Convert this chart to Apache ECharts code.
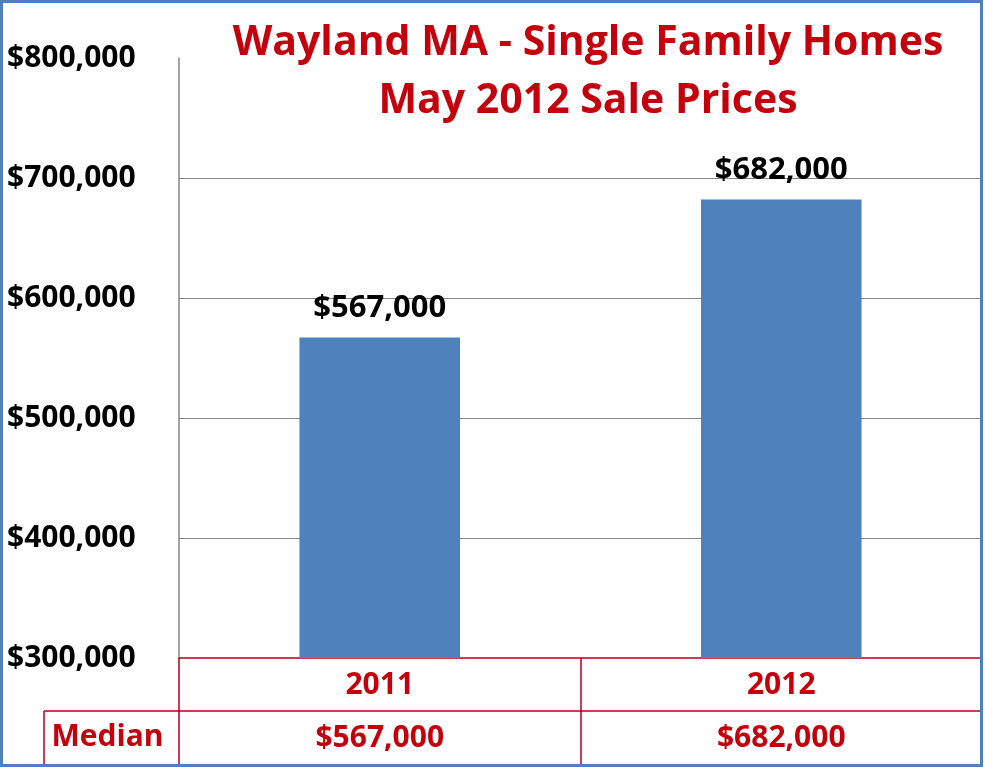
<!DOCTYPE html>
<html>
<head>
<meta charset="utf-8">
<script src="https://cdn.jsdelivr.net/npm/echarts@6/dist/echarts.min.js"></script>
<style>
html,body{margin:0;padding:0;background:#fff;}
#chart{width:985px;height:768px;}
</style>
</head>
<body>
<div id="chart"></div>
<script>
const categories = ['2011', '2012'];
const medianPrices = [567000, 682000];
const tableRowLabel = 'Median';
const yTicks = [300000, 400000, 500000, 600000, 700000, 800000];
const titleLines = ['Wayland MA - Single Family Homes', 'May 2012 Sale Prices'];

const fmt = v => '$' + Number(v).toLocaleString('en-US');
const FONT = '"Open Sans", "DejaVu Sans", sans-serif';
const RED = '#c4000c';
const TABLE_LINE = '#b4001e';

const chart = echarts.init(document.getElementById('chart'));
const gridLeft = 179, gridRight = 3, gridTop = 58, gridBottom = 110;
const rowH = 53;
const H = 768;
const axisY = H - gridBottom;

chart.setOption({
  animation: false,
  backgroundColor: '#fff',
  title: {
    text: titleLines.join('\n'),
    left: 583,
    top: 9,
    textAlign: 'center',
    textStyle: {color: RED, fontFamily: FONT, fontWeight: 'bold', fontSize: 41, lineHeight: 58}
  },
  grid: {left: gridLeft, right: gridRight, top: gridTop, bottom: gridBottom, containLabel: false},
  xAxis: [{
    type: 'category',
    data: categories,
    position: 'bottom',
    axisLine: {show: true, lineStyle: {color: TABLE_LINE, width: 1.5}},
    axisTick: {show: true, length: rowH * 2, lineStyle: {color: TABLE_LINE, width: 1.5}},
    axisLabel: {color: RED, fontFamily: FONT, fontWeight: 'bold', fontSize: 30, margin: 27, verticalAlign: 'middle'},
    splitLine: {show: false}
  }, {
    type: 'category',
    data: categories,
    position: 'bottom',
    offset: rowH,
    axisLine: {show: true, lineStyle: {color: TABLE_LINE, width: 1.5}},
    axisTick: {show: false},
    axisLabel: {
      color: RED, fontFamily: FONT, fontWeight: 'bold', fontSize: 30, margin: 27, verticalAlign: 'middle',
      formatter: (val, idx) => fmt(medianPrices[idx])
    },
    splitLine: {show: false}
  }],
  yAxis: {
    type: 'value',
    min: yTicks[0],
    max: yTicks[yTicks.length - 1],
    interval: yTicks[1] - yTicks[0],
    axisLine: {show: true, lineStyle: {color: '#868686', width: 1.5}},
    axisTick: {show: false},
    axisLabel: {
      color: '#000', fontFamily: FONT, fontWeight: 'bold', fontSize: 30,
      align: 'left', margin: gridLeft - 7, formatter: v => fmt(v)
    },
    splitLine: {show: true, showMinLine: false, showMaxLine: false, lineStyle: {color: '#868686', width: 1.2}}
  },
  series: [{
    type: 'bar',
    xAxisIndex: 0,
    data: medianPrices,
    barWidth: '40%',
    itemStyle: {color: '#4f81bd'},
    label: {
      show: true, position: 'top', distance: 14,
      color: '#000', fontFamily: FONT, fontWeight: 'bold', fontSize: 31,
      formatter: p => fmt(p.value)
    }
  }],
  graphic: [
    {type: 'line', shape: {x1: 44, y1: axisY + rowH, x2: gridLeft, y2: axisY + rowH}, style: {stroke: TABLE_LINE, lineWidth: 1.5}},
    {type: 'line', shape: {x1: 44, y1: axisY + rowH, x2: 44, y2: H - 3}, style: {stroke: TABLE_LINE, lineWidth: 1.5}},
    {type: 'text', x: (44 + gridLeft) / 2 - 4, y: axisY + rowH * 1.5,
      style: {text: tableRowLabel, fill: RED, font: 'bold 30px ' + FONT, textAlign: 'center', textVerticalAlign: 'middle'}},
    {type: 'rect', shape: {x: 1.5, y: 1.5, width: 980, height: 764}, style: {fill: 'none', stroke: '#4f7fc0', lineWidth: 3}, z: 100}
  ]
});
</script>
</body>
</html>
